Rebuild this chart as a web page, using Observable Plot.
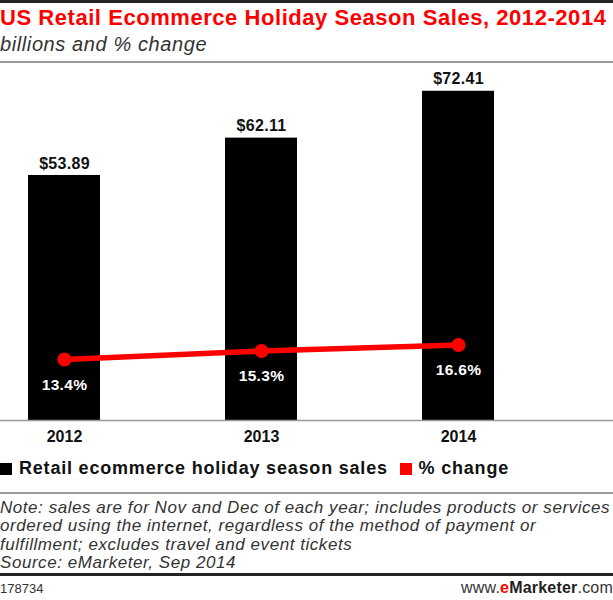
<!DOCTYPE html>
<html>
<head>
<meta charset="utf-8">
<script src="https://cdn.jsdelivr.net/npm/d3@7"></script>
<script src="https://cdn.jsdelivr.net/npm/@observablehq/plot@0.6"></script>
<style>
  html, body { margin: 0; padding: 0; background: #fff; }
  body { width: 613px; height: 600px; position: relative; overflow: hidden; font-family: "Liberation Sans", Arial, sans-serif; }
  .abs { position: absolute; white-space: nowrap; }
  #topbar { left: 0; top: 0; width: 613px; height: 3px; background: #222; }
  #title { left: 0; top: 5px; font-size: 22px; letter-spacing: 0.55px; font-weight: bold; color: #f00; line-height: 26px; }
  #subtitle { left: 0; top: 32px; font-size: 20px; letter-spacing: 0.6px; font-style: italic; color: #333; line-height: 24px; }
  #hr1 { left: 0; top: 61px; width: 613px; height: 2px; background: #999; }
  #chart { left: 0; top: 62px; }
  #legend { left: 0; top: 457px; font-size: 18px; letter-spacing: 0.8px; font-weight: bold; color: #111; line-height: 22px; }
  .sw { display: inline-block; width: 12px; height: 12px; vertical-align: -1px; margin-right: 7px; }
  #hr2 { left: 0; top: 492px; width: 613px; height: 2px; background: #999; }
  #note { left: 0; top: 499px; font-size: 17px; letter-spacing: 0.55px; font-style: italic; color: #333; line-height: 18.3px; }
  #hr3 { left: 0; top: 573px; width: 613px; height: 3px; background: #222; }
  #id { left: 0; top: 581px; font-size: 13px; color: #333; }
  #site { right: 0; top: 579px; font-size: 16px; letter-spacing: 0.2px; color: #333; }
</style>
</head>
<body>
<div class="abs" id="topbar"></div>
<div class="abs" id="title">US Retail Ecommerce Holiday Season Sales, 2012-2014</div>
<div class="abs" id="subtitle">billions and % change</div>
<div class="abs" id="hr1"></div>
<div class="abs" id="chart"></div>
<div class="abs" id="legend"><span class="sw" style="background:#000"></span>Retail ecommerce holiday season sales <span class="sw" style="background:#f00;margin-left:6px"></span>% change</div>
<div class="abs" id="hr2"></div>
<div class="abs" id="note">Note: sales are for Nov and Dec of each year; includes products or services<br>ordered using the internet, regardless of the method of payment or<br>fulfillment; excludes travel and event tickets<br>Source: eMarketer, Sep 2014</div>
<div class="abs" id="hr3"></div>
<div class="abs" id="id">178734</div>
<div class="abs" id="site">www.<span style="color:#f00;font-weight:bold">e</span><b style="color:#222">Marketer</b>.com</div>
<script>
const years = ["2012", "2013", "2014"];
const sales = [53.89, 62.11, 72.41];
const pctChange = [13.4, 15.3, 16.6];
const salesLabels = ["$53.89", "$62.11", "$72.41"];
const pctLabels = ["13.4%", "15.3%", "16.6%"];

const data = years.map((y, i) => ({year: y, sales: sales[i], pct: pctChange[i], sl: salesLabels[i], pl: pctLabels[i]}));

const chart = Plot.plot({
  width: 613,
  height: 383,
  marginTop: 17,
  marginBottom: 25,
  marginLeft: 0,
  marginRight: 91,
  style: {fontFamily: "'Liberation Sans', Arial, sans-serif", background: "transparent", overflow: "visible"},
  x: {domain: years, paddingInner: 0.635, paddingOuter: 0.142},
  y: {domain: [0, 75], axis: null},
  marks: [
    Plot.barY(data, {x: "year", y: "sales", fill: "#000"}),
    Plot.ruleY([0], {stroke: "#999", strokeWidth: 1.5, insetRight: -91}),
    Plot.text(data, {x: "year", y: "sales", text: "sl", dy: -12, fontSize: 16, fontWeight: "bold", fill: "#111"}),
    Plot.line(data, {x: "year", y: "pct", stroke: "#f00", strokeWidth: 5.5}),
    Plot.dot(data, {x: "year", y: "pct", r: 7, fill: "#f00"}),
    Plot.text(data, {x: "year", y: "pct", text: "pl", dy: 25, fontSize: 15.5, fontWeight: "bold", fill: "#fff"}),
    Plot.axisX({tickSize: 0, tickPadding: 10, fontSize: 16, fontWeight: "bold", color: "#111", label: null})
  ]
});
chart.querySelectorAll("g[aria-label='text'] text").forEach(t => t.style.letterSpacing = "0.3px");
document.getElementById("chart").appendChild(chart);
</script>
</body>
</html>
